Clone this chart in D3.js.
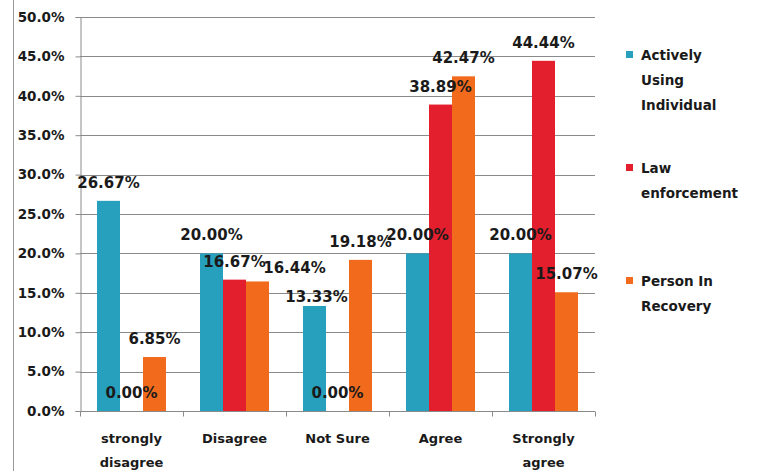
<!DOCTYPE html>
<html>
<head>
<meta charset="utf-8">
<script src="https://cdn.jsdelivr.net/npm/d3@7/dist/d3.min.js"></script>
<style>
  html, body { margin: 0; padding: 0; background: #fff; }
  svg { display: block; }
  text { font-family: "DejaVu Sans", Verdana, sans-serif; fill: #1a1a1a; }
</style>
</head>
<body>
<script>
const categories = ["strongly disagree", "Disagree", "Not Sure", "Agree", "Strongly agree"];
const series = ["Actively Using Individual", "Law enforcement", "Person In Recovery"];
const activelyUsing = [26.67, 20.00, 13.33, 20.00, 20.00];
const lawEnforcement = [0.00, 16.67, 0.00, 38.89, 44.44];
const personInRecovery = [6.85, 16.44, 19.18, 42.47, 15.07];
const yTicks = [0, 5, 10, 15, 20, 25, 30, 35, 40, 45, 50];

(function () {
const W = 759, H = 471;
const colors = ["#27a0be", "#e41f2d", "#f26b1d"];
const legendLines = [["Actively", "Using", "Individual"], ["Law", "enforcement"], ["Person In", "Recovery"]];
const catLines = [["strongly", "disagree"], ["Disagree"], ["Not Sure"], ["Agree"], ["Strongly", "agree"]];
// manual label nudges as in the original (series index-category index) -> [dx, dy]
const labelNudge = { "2-1": [37, 5], "0-2": [2, 9] };

const values = [activelyUsing, lawEnforcement, personInRecovery];

const svg = d3.select("body").append("svg").attr("width", W).attr("height", H);
svg.append("rect").attr("width", W).attr("height", H).attr("fill", "#fff");

// page frame line on the left
svg.append("line").attr("x1", 13.5).attr("x2", 13.5).attr("y1", 0).attr("y2", H)
  .attr("stroke", "#9a9a9a").attr("stroke-width", 1);

const mLeft = 80, mRight = 595, mTop = 17, mBottom = 411;

const x0 = d3.scaleBand().domain(categories).range([mLeft, mRight]).paddingInner(0).paddingOuter(0);
const x1 = d3.scaleBand().domain(series).range([0, x0.bandwidth()]).paddingInner(0).paddingOuter(0.739);
const y = d3.scaleLinear().domain([0, 50]).range([mBottom, mTop]);

// gridlines
svg.append("g").selectAll("line").data(yTicks.filter(d => d > 0)).join("line")
  .attr("x1", mLeft).attr("x2", mRight)
  .attr("y1", d => Math.round(y(d)) + 0.5).attr("y2", d => Math.round(y(d)) + 0.5)
  .attr("stroke", "#8a8a8a").attr("stroke-width", 1);

// y axis
const yAxis = svg.append("g").attr("transform", `translate(${mLeft + 0.5},0)`)
  .call(d3.axisLeft(y).tickValues(yTicks).tickSize(5).tickPadding(11).tickFormat(d => d.toFixed(1) + "%"));
yAxis.select(".domain").attr("stroke", "#8a8a8a");
yAxis.selectAll(".tick line").attr("stroke", "#8a8a8a");
yAxis.selectAll(".tick text").attr("font-size", "13.5px").attr("font-weight", "bold")
  .attr("font-family", "DejaVu Sans, sans-serif").attr("fill", "#1a1a1a");

// x axis
const xAxis = svg.append("g").attr("transform", `translate(0,${mBottom + 0.5})`);
xAxis.append("line").attr("x1", mLeft).attr("x2", mRight).attr("stroke", "#8a8a8a");
xAxis.selectAll(".xt").data(d3.range(categories.length + 1)).join("line")
  .attr("x1", i => Math.round(mLeft + i * x0.step()) + 0.5)
  .attr("x2", i => Math.round(mLeft + i * x0.step()) + 0.5)
  .attr("y1", 0).attr("y2", 5).attr("stroke", "#8a8a8a");

// category labels
categories.forEach((c, i) => {
  const cx = x0(c) + x0.bandwidth() / 2;
  catLines[i].forEach((ln, j) => {
    svg.append("text").attr("x", cx).attr("y", 443 + j * 24)
      .attr("text-anchor", "middle").attr("font-size", "13px").attr("font-weight", "bold").text(ln);
  });
});

// bars
series.forEach((s, si) => {
  svg.append("g").selectAll("rect").data(categories).join("rect")
    .attr("x", c => x0(c) + x1(s))
    .attr("width", x1.bandwidth())
    .attr("y", (c, ci) => y(values[si][ci]))
    .attr("height", (c, ci) => mBottom - y(values[si][ci]))
    .attr("fill", colors[si]);
});

// value labels
series.forEach((s, si) => {
  categories.forEach((c, ci) => {
    const v = values[si][ci];
    const n = labelNudge[si + "-" + ci] || [0, 0];
    svg.append("text")
      .attr("x", x0(c) + x1(s) + x1.bandwidth() / 2 + n[0])
      .attr("y", y(v) - 13 + n[1])
      .attr("text-anchor", "middle").attr("font-size", "15px").attr("font-weight", "bold")
      .text(v.toFixed(2) + "%");
  });
});

// legend
const legendY = [54, 167, 280];
series.forEach((s, si) => {
  svg.append("rect").attr("x", 626).attr("y", legendY[si] - 3).attr("width", 7).attr("height", 7).attr("fill", colors[si]);
  legendLines[si].forEach((ln, j) => {
    svg.append("text").attr("x", 641).attr("y", legendY[si] + 6 + j * 25)
      .attr("font-size", "13.5px").attr("font-weight", "bold").text(ln);
  });
});
})();
</script>
</body>
</html>
